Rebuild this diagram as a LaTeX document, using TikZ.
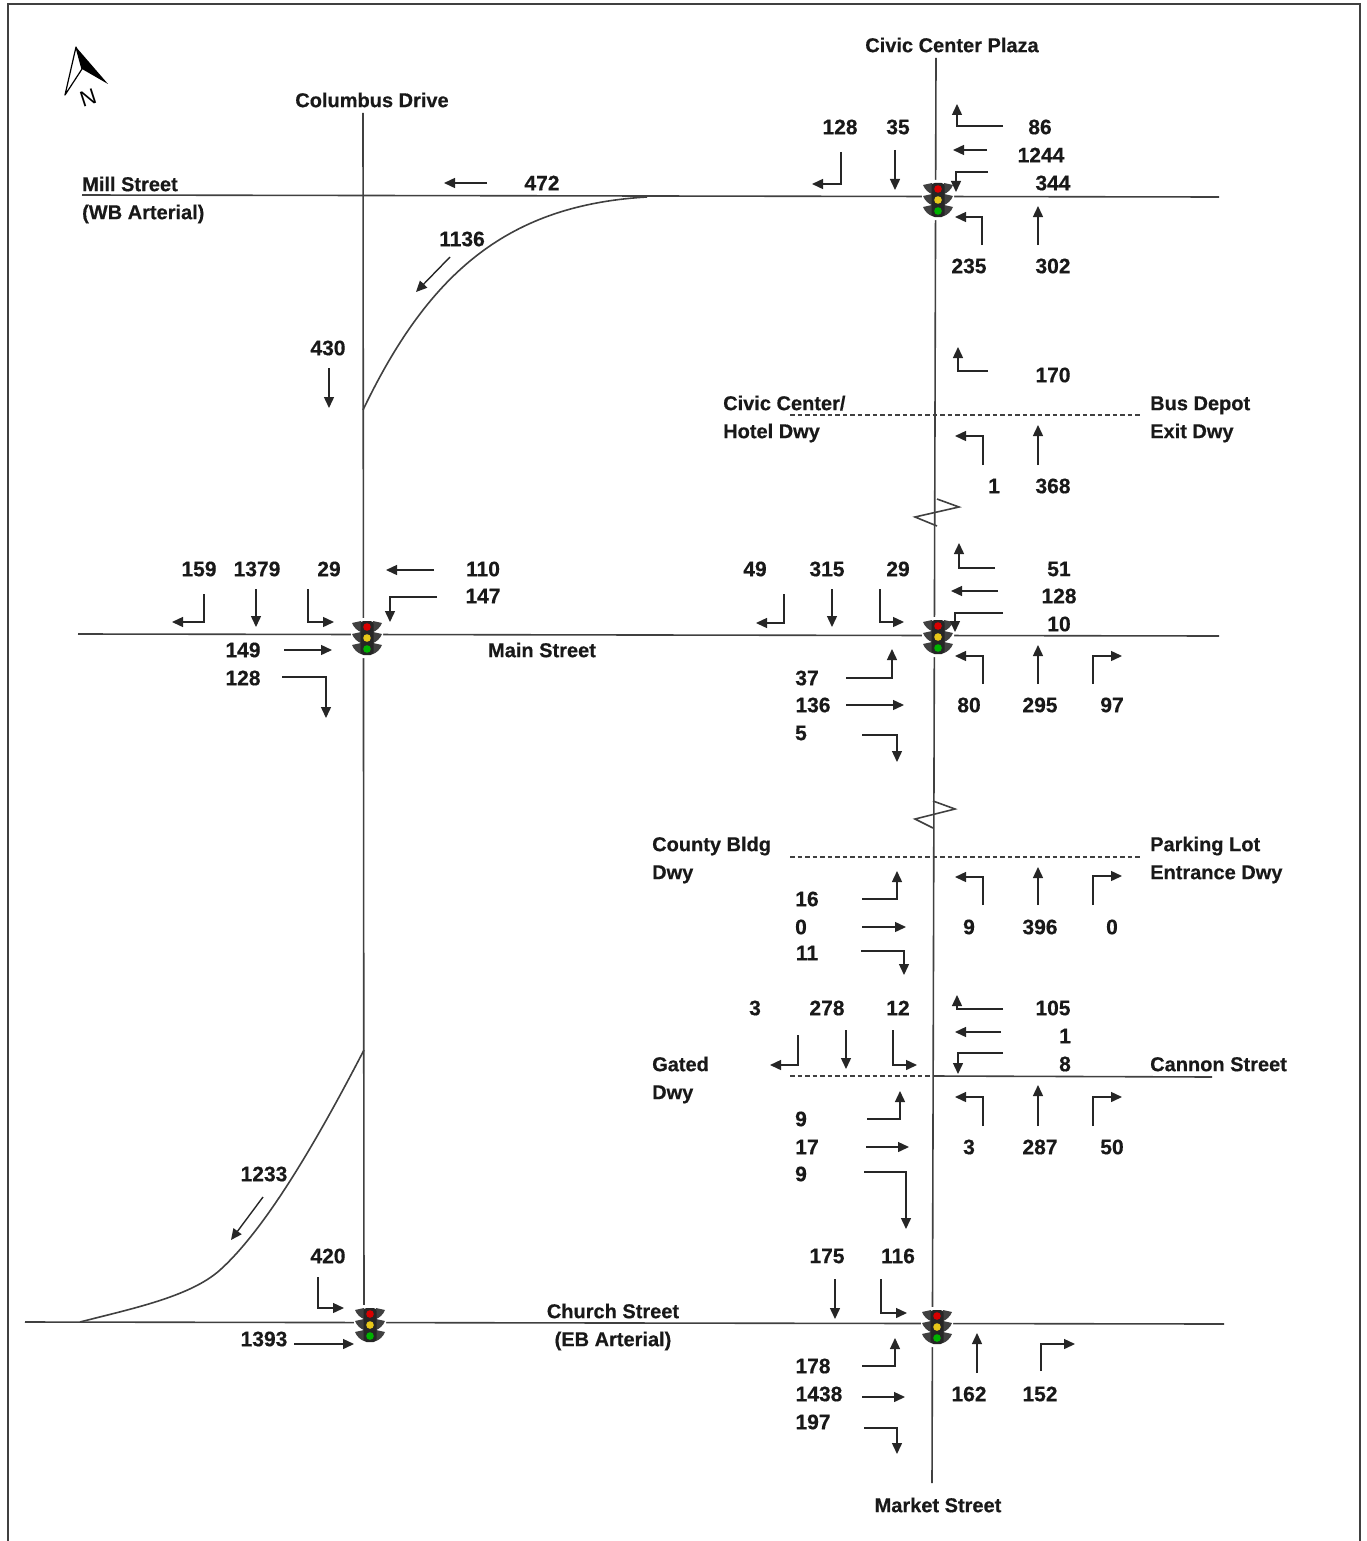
\documentclass[tikz,border=0pt]{standalone}
\usepackage{fontspec}
\setmainfont[BoldFeatures={FakeBold=0.5}]{Liberation Sans}
\usetikzlibrary{arrows.meta}
\definecolor{roadgray}{gray}{0.25}
\tikzset{
  road/.style={draw=roadgray, line width=1.6pt},
  flow/.style={draw=black!85, line width=1.4pt, -{Triangle[length=11pt,width=10pt]}},
  count/.style={font=\bfseries\fontsize{21}{24}\selectfont, inner sep=0pt, text=black!90},
  street/.style={font=\bfseries\fontsize{20}{24}\selectfont, inner sep=0pt, text=black!90, text height=14.3pt, text depth=0pt},
  signal/.pic={
    \fill[white, rounded corners=4pt] (-16,-20) rectangle (16,20);
    \foreach \w in {-11,0,11} {
      \fill[black!75] (-6,\w-6) -- (-15,\w-4) .. controls (-13,\w+1) and (-9,\w+4) .. (-6,\w+5) -- cycle;
      \fill[black!75] (6,\w-6) -- (15,\w-4) .. controls (13,\w+1) and (9,\w+4) .. (6,\w+5) -- cycle;
    }
    \fill[black!85, rounded corners=3pt] (-6.5,-17) rectangle (6.5,17);
    \fill[red!85!black] (0,-11) circle (3.8);
    \fill[yellow!75!orange!90!black] (0,0) circle (3.8);
    \fill[green!70!black] (0,11) circle (3.8);
  }
}
\begin{document}
\begin{tikzpicture}[x=1pt, y=-1pt]
\useasboundingbox (0,0) rectangle (1367,1541);
\draw[roadgray, line width=2.5pt] (8,1541) -- (8,4) -- (1360,4) -- (1360,1541);
\fill[black] (76,47) -- (108,84) -- (82,69) -- cycle;
\draw[black, line width=1.2pt, line join=round] (76,47) -- (65,95) -- (82,69) -- cycle;
\node[font=\fontsize{22}{24}\selectfont, inner sep=0pt, rotate=18] (northN) at (88,98) {N};

\draw[road] (936,58) -- (932,1483);
\draw[road] (363,113) -- (364,1322);
\draw[road] (82,195) -- (1219,197);
\draw[road] (78,634) -- (1219,636);
\draw[road] (25,1322) -- (1224,1324);
\draw[road] (647,197) .. controls (510,205) and (430,270) .. (363,410);
\draw[road] (364,1050) .. controls (325,1125) and (270,1225) .. (220,1270) .. controls (190,1297) and (130,1309) .. (80,1322);
\draw[road, dash pattern=on 4.5pt off 3pt, line width=1.3pt] (790,415) -- (1140,415);
\draw[road, dash pattern=on 4.5pt off 3pt, line width=1.3pt] (790,857) -- (1140,857);
\draw[road, dash pattern=on 4.5pt off 3pt, line width=1.3pt] (790,1076) -- (934,1076);
\draw[road] (934,1076) -- (1212,1077);
\draw[road] (937,499) -- (959,507) -- (915,517) -- (937,526);
\draw[road] (933,801) -- (955,809) -- (915,819) -- (933,828);

\pic at (938,200) {signal};
\pic at (367,638) {signal};
\pic at (938,637) {signal};
\pic at (370,1325) {signal};
\pic at (937,1327) {signal};

\node[street] (civicplaza) at (952,45) {Civic Center Plaza};
\node[street] (columbus) at (372,100) {Columbus Drive};
\node[street, anchor=west] (mill) at (82,184) {Mill Street};
\node[street, anchor=west] (millwb) at (82,212) {(WB Arterial)};
\node[street, anchor=west] (civichotel) at (723,403) {Civic Center/};
\node[street, anchor=west] (hoteldwy) at (723,431) {Hotel Dwy};
\node[street, anchor=west] (busdepot) at (1150,403) {Bus Depot};
\node[street, anchor=west] (exitdwy) at (1150,431) {Exit Dwy};
\node[street] (mainst) at (542,650) {Main Street};
\node[street, anchor=west] (countybldg) at (652,844) {County Bldg};
\node[street, anchor=west] (countydwy) at (652,872) {Dwy};
\node[street, anchor=west] (parkinglot) at (1150,844) {Parking Lot};
\node[street, anchor=west] (entrancedwy) at (1150,872) {Entrance Dwy};
\node[street, anchor=west] (gated) at (652,1064) {Gated};
\node[street, anchor=west] (gateddwy) at (652,1092) {Dwy};
\node[street, anchor=west] (cannon) at (1150,1064) {Cannon Street};
\node[street] (church) at (613,1311) {Church Street};
\node[street] (churcheb) at (613,1339) {(EB Arterial)};
\node[street] (market) at (938,1505) {Market Street};

\node[count] (plazaA) at (840,127) {128};
\node[count] (plazaB) at (898,127) {35};
\node[count] (plazaC) at (1040,127) {86};
\node[count] (plazaD) at (1041,155) {1244};
\node[count] (plazaE) at (1053,183) {344};
\node[count] (plazaF) at (969,266) {235};
\node[count] (plazaG) at (1053,266) {302};
\node[count] (millA) at (542,183) {472};
\node[count] (millB) at (462,239) {1136};
\node[count] (colA) at (328,348) {430};
\node[count] (depotA) at (1053,375) {170};
\node[count] (depotB) at (994,486) {1};
\node[count] (depotC) at (1053,486) {368};
\node[count] (mainA) at (199,569) {159};
\node[count] (mainB) at (257,569) {1379};
\node[count] (mainC) at (329,569) {29};
\node[count] (mainD) at (483,569) {110};
\node[count] (mainE) at (483,596) {147};
\node[count] (mainF) at (243,650) {149};
\node[count] (mainG) at (243,678) {128};
\node[count] (centA) at (755,569) {49};
\node[count] (centB) at (827,569) {315};
\node[count] (centC) at (898,569) {29};
\node[count] (centD) at (1059,569) {51};
\node[count] (centE) at (1059,596) {128};
\node[count] (centF) at (1059,624) {10};
\node[count] (centG) at (807,678) {37};
\node[count] (centH) at (813,705) {136};
\node[count] (centI) at (801,733) {5};
\node[count] (centJ) at (969,705) {80};
\node[count] (centK) at (1040,705) {295};
\node[count] (centL) at (1112,705) {97};
\node[count] (lotA) at (807,899) {16};
\node[count] (lotB) at (801,927) {0};
\node[count] (lotC) at (807,953) {11};
\node[count] (lotD) at (969,927) {9};
\node[count] (lotE) at (1040,927) {396};
\node[count] (lotF) at (1112,927) {0};
\node[count] (canA) at (755,1008) {3};
\node[count] (canB) at (827,1008) {278};
\node[count] (canC) at (898,1008) {12};
\node[count] (canD) at (1053,1008) {105};
\node[count] (canE) at (1065,1036) {1};
\node[count] (canF) at (1065,1064) {8};
\node[count] (canG) at (801,1119) {9};
\node[count] (canH) at (807,1147) {17};
\node[count] (canI) at (801,1174) {9};
\node[count] (canJ) at (969,1147) {3};
\node[count] (canK) at (1040,1147) {287};
\node[count] (canL) at (1112,1147) {50};
\node[count] (chuA) at (264,1174) {1233};
\node[count] (chuB) at (328,1256) {420};
\node[count] (chuC) at (264,1339) {1393};
\node[count] (mktA) at (827,1256) {175};
\node[count] (mktB) at (898,1256) {116};
\node[count] (mktC) at (813,1366) {178};
\node[count] (mktD) at (819,1394) {1438};
\node[count] (mktE) at (813,1422) {197};
\node[count] (mktF) at (969,1394) {162};
\node[count] (mktG) at (1040,1394) {152};

\draw[flow] (841,152) -- (841,184) -- (812,184);
\draw[flow] (895,150) -- (895,190);
\draw[flow] (1003,126) -- (957,126) -- (957,104);
\draw[flow] (987,150) -- (953,150);
\draw[flow] (988,172) -- (956,172) -- (956,192);
\draw[flow] (982,245) -- (982,217) -- (955,217);
\draw[flow] (1038,245) -- (1038,206);
\draw[flow] (487,183) -- (444,183);
\draw[flow] (450,257) -- (416,292);
\draw[flow] (329,368) -- (329,408);
\draw[flow] (988,371) -- (958,371) -- (958,347);
\draw[flow] (983,465) -- (983,436) -- (955,436);
\draw[flow] (1038,465) -- (1038,425);
\draw[flow] (204,594) -- (204,622) -- (172,622);
\draw[flow] (256,589) -- (256,627);
\draw[flow] (308,589) -- (308,622) -- (334,622);
\draw[flow] (434,570) -- (386,570);
\draw[flow] (437,597) -- (390,597) -- (390,622);
\draw[flow] (284,650) -- (332,650);
\draw[flow] (282,677) -- (326,677) -- (326,718);
\draw[flow] (784,594) -- (784,623) -- (756,623);
\draw[flow] (832,589) -- (832,627);
\draw[flow] (880,589) -- (880,622) -- (904,622);
\draw[flow] (995,568) -- (959,568) -- (959,543);
\draw[flow] (998,591) -- (951,591);
\draw[flow] (1003,613) -- (955,613) -- (955,632);
\draw[flow] (846,678) -- (892,678) -- (892,649);
\draw[flow] (846,705) -- (904,705);
\draw[flow] (862,735) -- (897,735) -- (897,762);
\draw[flow] (983,684) -- (983,656) -- (955,656);
\draw[flow] (1038,684) -- (1038,645);
\draw[flow] (1093,684) -- (1093,656) -- (1122,656);
\draw[flow] (862,899) -- (897,899) -- (897,871);
\draw[flow] (862,927) -- (906,927);
\draw[flow] (861,951) -- (904,951) -- (904,975);
\draw[flow] (983,905) -- (983,877) -- (955,877);
\draw[flow] (1038,905) -- (1038,867);
\draw[flow] (1093,905) -- (1093,876) -- (1122,876);
\draw[flow] (798,1035) -- (798,1065) -- (770,1065);
\draw[flow] (846,1030) -- (846,1069);
\draw[flow] (893,1030) -- (893,1065) -- (917,1065);
\draw[flow] (1003,1009) -- (957,1009) -- (957,995);
\draw[flow] (1001,1032) -- (955,1032);
\draw[flow] (1003,1053) -- (958,1053) -- (958,1074);
\draw[flow] (867,1119) -- (900,1119) -- (900,1091);
\draw[flow] (866,1147) -- (909,1147);
\draw[flow] (864,1172) -- (906,1172) -- (906,1229);
\draw[flow] (983,1126) -- (983,1097) -- (955,1097);
\draw[flow] (1038,1126) -- (1038,1085);
\draw[flow] (1093,1126) -- (1093,1097) -- (1122,1097);
\draw[flow] (263,1197) -- (231,1240);
\draw[flow] (318,1277) -- (318,1308) -- (344,1308);
\draw[flow] (294,1344) -- (354,1344);
\draw[flow] (835,1279) -- (835,1319);
\draw[flow] (881,1279) -- (881,1313) -- (907,1313);
\draw[flow] (862,1366) -- (895,1366) -- (895,1338);
\draw[flow] (862,1397) -- (905,1397);
\draw[flow] (864,1428) -- (897,1428) -- (897,1454);
\draw[flow] (977,1373) -- (977,1333);
\draw[flow] (1041,1371) -- (1041,1344) -- (1075,1344);
\end{tikzpicture}
\end{document}
